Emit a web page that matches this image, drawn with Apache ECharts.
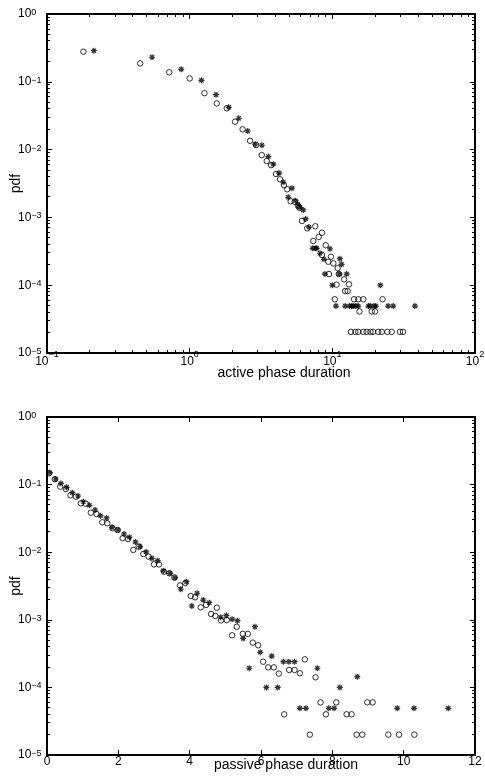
<!DOCTYPE html>
<html>
<head>
<meta charset="utf-8">
<script src="https://cdn.jsdelivr.net/npm/echarts@6/dist/echarts.min.js"></script>
<style>
html, body { margin: 0; padding: 0; background: #fff; }
#main { width: 485px; height: 784px; }
</style>
</head>
<body>
<div id="main"></div>
<script>
// [duration, pdf]
var activeCircles = [
    [0.18,0.278],[0.45,0.187],[0.72,0.138],[1.0,0.112],[1.27,0.068],[1.55,0.048],[1.82,0.0407],
    [2.08,0.0258],[2.35,0.0199],[2.65,0.0135],[2.92,0.0117],[3.2,0.0083],[3.47,0.0068],[3.72,0.0059],
    [4.03,0.00437],[4.3,0.00365],[4.58,0.0030],[4.83,0.0026],[5.1,0.00173],[5.45,0.0017],[5.74,0.00149],
    [5.86,0.00139],[6.12,0.000885],[6.67,0.00069],[7.6,0.00074],[8.46,0.000595],[8.02,0.000514],
    [7.35,0.000449],[8.99,0.000388],[8.46,0.000279],[9.78,0.000263],[9.37,0.000222],[10.16,0.00021],
    [10.9,0.000179],[9.48,0.000146],[11.1,0.000146],[10.7,0.000102],[12.1,0.000122],[13.1,0.000103],
    [12.3,0.000082],[12.8,0.000082],[10.4,0.000062],[14.2,0.000062],[15.2,0.000062],[16.5,0.000062],
    [22.5,0.000062],[15.5,0.000041],[18.9,0.000041],[19.9,0.000041],
    [13.5,0.0000205],[14.5,0.0000205],[15.2,0.0000205],[16.5,0.0000205],[17.4,0.0000205],[18.5,0.0000205],
    [19.3,0.0000205],[21.0,0.0000205],[22.2,0.0000205],[24.3,0.0000205],[26.1,0.0000205],[29.8,0.0000205],
    [31.3,0.0000205]
];
var activeStars = [
    [0.213,0.288],[0.545,0.23],[0.873,0.153],[1.21,0.105],[1.53,0.0645],[1.88,0.042],[2.21,0.029],
    [2.55,0.0188],[2.88,0.012],[3.21,0.0116],[3.56,0.0079],[3.86,0.0061],[4.23,0.0045],[4.53,0.0033],
    [5.21,0.0027],[4.91,0.00198],[5.53,0.00176],[5.75,0.00155],[5.93,0.00141],[6.25,0.00129],[6.5,0.00095],
    [6.86,0.00072],[9.63,0.000345],[7.28,0.00035],[7.6,0.00035],[7.77,0.00035],[8.2,0.000296],
    [11.3,0.000246],[8.74,0.000241],[11.6,0.000203],[8.88,0.000146],[11.2,0.000146],[12.6,0.000146],
    [10.0,0.0001],[21.7,0.0001],
    [10.6,0.0000493],[12.3,0.0000493],[13.2,0.0000493],[13.7,0.0000493],[14.0,0.0000493],[14.6,0.0000493],
    [15.2,0.0000493],[17.9,0.0000493],[18.4,0.0000493],[19.6,0.0000493],[20.2,0.0000493],[24.6,0.0000493],
    [26.7,0.0000493],[37.9,0.0000493]
];
var passiveCircles = [
    [0.06,0.147],[0.22,0.120],[0.37,0.093],[0.53,0.086],[0.66,0.0695],[0.81,0.0662],[0.95,0.0529],
    [1.09,0.0521],[1.23,0.0384],[1.39,0.0367],[1.55,0.0277],[1.69,0.0268],[1.84,0.0226],[1.98,0.0213],
    [2.12,0.0161],[2.27,0.0157],[2.42,0.0108],[2.57,0.0121],[2.70,0.0094],[2.85,0.0086],[3.00,0.0066],
    [3.14,0.0066],[3.28,0.00515],[3.43,0.00488],[3.57,0.00422],[3.73,0.00322],[3.88,0.0035],[4.03,0.00225],
    [4.15,0.00215],[4.31,0.00153],[4.46,0.00166],[4.60,0.00122],[4.72,0.00114],[4.76,0.00151],[4.88,0.00098],
    [5.04,0.00099],[5.32,0.00079],[5.19,0.00059],[5.49,0.00062],[5.63,0.00062],[5.77,0.00046],[5.92,0.00042],
    [6.06,0.00024],[6.20,0.000198],[6.36,0.000198],[6.50,0.00016],[6.79,0.000181],[6.94,0.000181],
    [7.09,0.000162],[7.23,0.00026],[7.53,0.000141],[6.65,0.00004],[7.67,0.00006],[7.82,0.00004],
    [8.11,0.00006],[8.40,0.00004],[8.54,0.00004],[8.98,0.00006],[9.13,0.00006],[7.37,0.00002],
    [8.68,0.00002],[8.84,0.00002],[9.57,0.00002],[9.87,0.00002],[10.30,0.00002]
];
var passiveStars = [
    [0.08,0.150],[0.24,0.121],[0.39,0.104],[0.55,0.091],[0.71,0.0759],[0.87,0.0678],[1.02,0.0558],
    [1.19,0.0494],[1.35,0.0421],[1.50,0.0347],[1.67,0.0321],[1.82,0.0233],[1.99,0.0213],[2.16,0.0186],
    [2.31,0.0166],[2.48,0.0142],[2.61,0.0121],[2.78,0.0101],[2.94,0.0081],[3.10,0.0075],[3.26,0.0053],
    [3.45,0.00487],[3.59,0.00418],[3.75,0.00283],[3.91,0.00366],[4.06,0.0016],[4.21,0.00247],[4.38,0.00196],
    [4.55,0.00179],[4.87,0.00109],[5.03,0.00116],[5.19,0.00102],[5.34,0.00097],[5.50,0.00053],[5.83,0.00079],
    [5.98,0.00033],[6.30,0.00029],[5.67,0.000192],[6.63,0.00024],[6.78,0.00024],[6.94,0.00024],
    [7.58,0.000192],[6.15,0.0001],[6.47,0.0001],[8.21,0.0001],[8.70,0.000144],[7.09,0.000049],
    [7.26,0.000049],[7.90,0.000049],[8.05,0.000049],[9.82,0.000049],[10.29,0.000049],[11.25,0.000049]
];

var activeRange = [0.1, 100];
var pdfRange = [1e-5, 1];
var passiveRange = [0, 12];
var passiveStep = 2;
var axisNames = ['active phase duration', 'passive phase duration', 'pdf'];

var FONT = '"Liberation Sans", Arial, Helvetica, sans-serif';
var STAR = 'path://M5 0L5 10M0 5L10 5M1.5 1.5L8.5 8.5M8.5 1.5L1.5 8.5';

function expLabel(v) {
    var e = Math.round(Math.log(v) / Math.LN10);
    return '{b|10}{e|' + (e < 0 ? '\u2212' + (-e) : e) + '}';
}
var yRich = {
    b: { fontSize: 12, fontFamily: FONT, color: '#000' },
    e: { fontSize: 9, fontFamily: FONT, color: '#000', verticalAlign: 'top' }
};
var xRich = {
    b: { fontSize: 12, fontFamily: FONT, color: '#000', padding: [6, 0, 0, 0] },
    e: { fontSize: 9, fontFamily: FONT, color: '#000', verticalAlign: 'top' }
};

function axis(grid, type, range, pos, label) {
    var a = {
        gridIndex: grid, type: type, min: range[0], max: range[1], position: pos,
        axisLine: { onZero: false, lineStyle: { color: '#000', width: 2 } },
        axisTick: { inside: true, length: 5, lineStyle: { color: '#000' } },
        splitLine: { show: false },
        axisLabel: { show: false }
    };
    if (type == 'log') a.logBase = 10;
    if (label) a.axisLabel = label;
    return a;
}
function named(a, name, gap, shift) {
    a.name = name;
    a.nameLocation = 'middle';
    a.nameGap = gap;
    a.nameMoveOverlap = false;
    a.nameTextStyle = { fontSize: 14, fontFamily: FONT, color: '#000', padding: [0, 0, 0, shift] };
    return a;
}

var xa0 = named(axis(0, 'log', activeRange, 'bottom', { formatter: expLabel, rich: xRich, margin: -3 }),
    axisNames[0], 13, 46);
var xa2 = named(axis(1, 'value', passiveRange, 'bottom', { fontSize: 12, fontFamily: FONT, color: '#000', margin: 1 }),
    axisNames[1], 3, 50);
xa2.interval = passiveStep;
var xa3 = axis(1, 'value', passiveRange, 'top');
xa3.interval = passiveStep;

function yMain(grid) {
    return named(axis(grid, 'log', pdfRange, 'left', { formatter: expLabel, rich: yRich, align: 'left', margin: 29 }),
        axisNames[2], 24, 0);
}

function scatter(data, xi, yi, star) {
    return {
        type: 'scatter', data: data, xAxisIndex: xi, yAxisIndex: yi,
        symbol: star ? STAR : 'circle', symbolSize: star ? 6 : 5.5,
        itemStyle: { color: 'rgba(0,0,0,0)', borderColor: '#000', borderWidth: star ? 1.2 : 1 },
        emphasis: { disabled: true }, silent: true
    };
}

var chart = echarts.init(document.getElementById('main'));
chart.setOption({
    backgroundColor: '#fff',
    animation: false,
    grid: [
        { left: 47, top: 14, width: 428, height: 339, containLabel: false, outerBoundsMode: 'none' },
        { left: 47, top: 417, width: 428, height: 338, containLabel: false, outerBoundsMode: 'none' }
    ],
    xAxis: [xa0, axis(0, 'log', activeRange, 'top'), xa2, xa3],
    yAxis: [yMain(0), axis(0, 'log', pdfRange, 'right'), yMain(1), axis(1, 'log', pdfRange, 'right')],
    series: [
        scatter(activeCircles, 0, 0, false),
        scatter(activeStars, 0, 0, true),
        scatter(passiveCircles, 2, 2, false),
        scatter(passiveStars, 2, 2, true)
    ]
});

// minor ticks at 2..9 of each decade, inside on both sides of the box
var graphics = [];
function tick(x1, y1, x2, y2) {
    graphics.push({ type: 'line', silent: true, shape: { x1: x1, y1: y1, x2: x2, y2: y2 },
        style: { stroke: '#000', lineWidth: 1 } });
}
function minors(r) {
    var out = [];
    var lo = Math.round(Math.log(r[0]) / Math.LN10), hi = Math.round(Math.log(r[1]) / Math.LN10);
    for (var d = lo; d < hi; d++)
        for (var k = 2; k <= 9; k++) out.push(k * Math.pow(10, d));
    return out;
}
function snap(v) { return Math.round(v - 0.5) + 0.5; }
function minorY(yi, xi, xr) {
    var xl = chart.convertToPixel({ xAxisIndex: xi }, xr[0]);
    var xr2 = chart.convertToPixel({ xAxisIndex: xi }, xr[1]);
    minors(pdfRange).forEach(function (v) {
        var py = snap(chart.convertToPixel({ yAxisIndex: yi }, v));
        tick(xl, py, xl + 3, py);
        tick(xr2, py, xr2 - 3, py);
    });
}
function minorX(xi, yi) {
    var yb = chart.convertToPixel({ yAxisIndex: yi }, pdfRange[0]);
    var yt = chart.convertToPixel({ yAxisIndex: yi }, pdfRange[1]);
    minors(activeRange).forEach(function (v) {
        var px = snap(chart.convertToPixel({ xAxisIndex: xi }, v));
        tick(px, yb, px, yb - 3);
        tick(px, yt, px, yt + 3);
    });
}
minorY(0, 0, activeRange);
minorX(0, 0);
minorY(2, 2, passiveRange);
chart.setOption({ graphic: graphics });
</script>
</body>
</html>
